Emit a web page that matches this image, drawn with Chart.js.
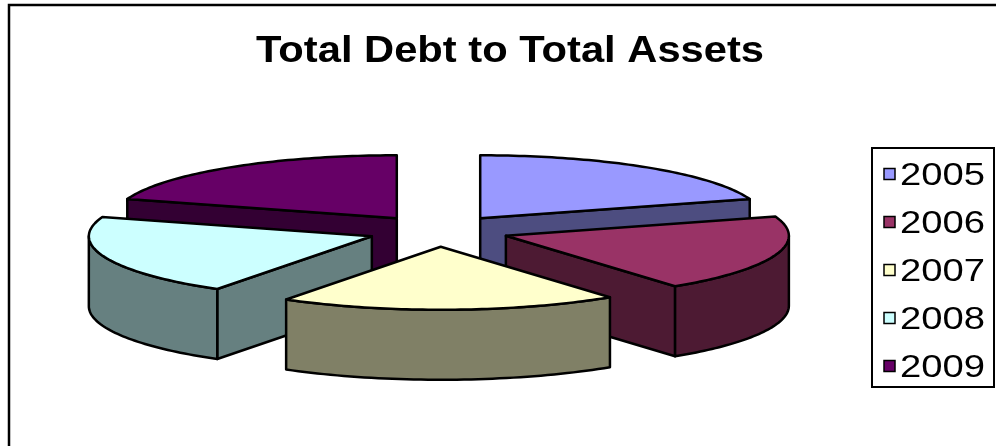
<!DOCTYPE html>
<html>
<head>
<meta charset="utf-8">
<style>
  html, body { margin: 0; padding: 0; background: #ffffff; }
  canvas { display: block; }
</style>
<script src="https://cdn.jsdelivr.net/npm/chart.js@4/dist/chart.umd.min.js"></script>
</head>
<body>
<canvas id="chart" width="996" height="446"></canvas>
<script>
// Debt ratio by year
const years = ['2005', '2006', '2007', '2008', '2009'];
const debtToAssets = [0.60, 0.59, 0.58, 0.62, 0.60];
const faceColors = ['#9999FF', '#993366', '#FFFFCC', '#CCFFFF', '#660066'];
const wallColors = ['#4D4D80', '#4D1A33', '#808066', '#668080', '#330033'];
const chartTitle = 'Total Debt to Total Assets';

const FONT = '"Liberation Sans", Arial, sans-serif';

// Stretched text helper: draws text scaled horizontally to a given width
function drawText(ctx, text, x, y, font, width, align) {
  ctx.save();
  ctx.font = font;
  const natural = ctx.measureText(text).width;
  const sx = width / natural;
  ctx.translate(x, y);
  ctx.scale(sx, 1);
  ctx.textAlign = align;
  ctx.textBaseline = 'alphabetic';
  ctx.fillStyle = '#000000';
  ctx.fillText(text, 0, 0);
  ctx.restore();
}

// Extruded, exploded pie drawn from the arc angles the doughnut controller computes
const pie3d = {
  id: 'pie3d',
  beforeDatasetsDraw(chart) {
    const ctx = chart.ctx;
    const meta = chart.getDatasetMeta(0);
    const arcs = meta.data;
    const R = arcs[0].outerRadius;
    const cx = arcs[0].x;
    const cy = arcs[0].y;
    const kx = 2.83;      // horizontal stretch of the tilted disc
    const ky = 0.63;      // vertical squash of the tilted disc
    const depth = 70;     // wall height in px
    const explode = 0.25; // slice pull-out, fraction of radius
    const colors = chart.data.datasets[0].backgroundColor;
    const walls = chart.data.datasets[0].wallColor;

    const order = arcs.map((el, i) => i).sort((i, j) => {
      const mi = (arcs[i].startAngle + arcs[i].endAngle) / 2;
      const mj = (arcs[j].startAngle + arcs[j].endAngle) / 2;
      return Math.sin(mi) - Math.sin(mj);
    });

    ctx.save();
    ctx.lineWidth = 2.5;
    ctx.lineJoin = 'round';
    ctx.strokeStyle = '#000000';

    const fillStroke = (fill) => {
      ctx.fillStyle = fill;
      ctx.fill();
      ctx.stroke();
    };

    order.forEach((i) => {
      const el = arcs[i];
      const s = el.startAngle;
      const e = el.endAngle;
      const mid = (s + e) / 2;
      const ax = cx + Math.cos(mid) * explode * R * kx;
      const ay = cy + Math.sin(mid) * explode * R * ky;
      const px = (a) => ax + Math.cos(a) * R * kx;
      const py = (a) => ay + Math.sin(a) * R * ky;

      // radial wall on the start edge
      if (Math.cos(s) < -1e-6) {
        ctx.beginPath();
        ctx.moveTo(ax, ay);
        ctx.lineTo(px(s), py(s));
        ctx.lineTo(px(s), py(s) + depth);
        ctx.lineTo(ax, ay + depth);
        ctx.closePath();
        fillStroke(walls[i]);
      }
      // radial wall on the end edge
      if (Math.cos(e) > 1e-6) {
        ctx.beginPath();
        ctx.moveTo(ax, ay);
        ctx.lineTo(px(e), py(e));
        ctx.lineTo(px(e), py(e) + depth);
        ctx.lineTo(ax, ay + depth);
        ctx.closePath();
        fillStroke(walls[i]);
      }
      // curved outer wall, front half only
      const lo = Math.max(s, 0);
      const hi = Math.min(e, Math.PI);
      if (hi > lo) {
        const steps = 48;
        ctx.beginPath();
        for (let k = 0; k <= steps; k++) {
          const a = lo + (hi - lo) * k / steps;
          if (k === 0) ctx.moveTo(px(a), py(a)); else ctx.lineTo(px(a), py(a));
        }
        for (let k = steps; k >= 0; k--) {
          const a = lo + (hi - lo) * k / steps;
          ctx.lineTo(px(a), py(a) + depth);
        }
        ctx.closePath();
        fillStroke(walls[i]);
      }
      // top face
      ctx.beginPath();
      ctx.moveTo(ax, ay);
      const steps = 64;
      for (let k = 0; k <= steps; k++) {
        const a = s + (e - s) * k / steps;
        ctx.lineTo(px(a), py(a));
      }
      ctx.closePath();
      fillStroke(colors[i]);
    });
    ctx.restore();
    return false;
  },
  afterDraw(chart) {
    const ctx = chart.ctx;
    ctx.save();
    // outer frame
    ctx.strokeStyle = '#000000';
    ctx.lineWidth = 2.5;
    ctx.strokeRect(9, 5, 1000, 460);

    // title
    drawText(ctx, chartTitle, 510, 62, 'bold 36px ' + FONT, 508, 'center');

    // legend box
    ctx.lineWidth = 2;
    ctx.strokeRect(872, 148, 122, 239);
    const labels = chart.data.labels;
    const colors = chart.data.datasets[0].backgroundColor;
    labels.forEach((lab, i) => {
      const yc = 174 + i * 48;
      ctx.fillStyle = colors[i];
      ctx.fillRect(884, yc - 5.5, 11, 11);
      ctx.lineWidth = 1.5;
      ctx.strokeRect(884, yc - 5.5, 11, 11);
      drawText(ctx, lab, 900, yc + 11, '31px ' + FONT, 85, 'left');
    });
    ctx.restore();
  }
};

new Chart(document.getElementById('chart'), {
  type: 'pie',
  data: {
    labels: years,
    datasets: [{
      data: debtToAssets,
      backgroundColor: faceColors,
      wallColor: wallColors,
      borderWidth: 0
    }]
  },
  options: {
    responsive: false,
    animation: false,
    layout: { padding: { left: 338.5, right: 457.5, top: 131, bottom: 115 } },
    plugins: {
      legend: { display: false },
      title: { display: false },
      tooltip: { enabled: false }
    }
  },
  plugins: [pie3d]
});
</script>
</body>
</html>
